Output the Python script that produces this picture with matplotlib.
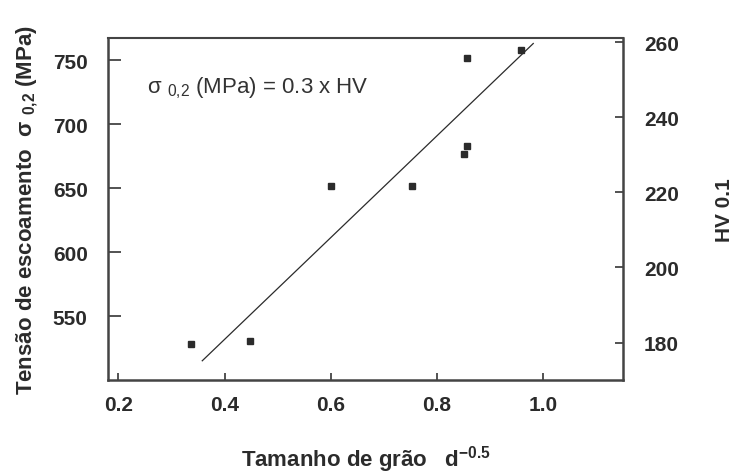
import numpy as np
import matplotlib
matplotlib.use('Agg')
import matplotlib.pyplot as plt

plt.rcParams['font.family'] = ['Liberation Sans', 'DejaVu Sans']
plt.rcParams['mathtext.fontset'] = 'custom'
plt.rcParams['mathtext.rm'] = 'Liberation Sans'
plt.rcParams['mathtext.bf'] = 'Liberation Sans:bold'

# Dados
d_inv = [0.336, 0.448, 0.600, 0.752, 0.850, 0.857, 0.857, 0.957]
sigma = [528.4, 531.0, 651.9, 651.9, 676.6, 682.9, 751.6, 757.8]
fit_x = [0.358, 0.981]
fit_y = [515.4, 763.0]

x_ticks = [0.2, 0.4, 0.6, 0.8, 1.0]
y_ticks = [550, 600, 650, 700, 750]
hv_ticks = [180, 200, 220, 240, 260]

cor = '#2b2b2b'
fs = 15

fig = plt.figure(figsize=(7.33, 4.77), dpi=100)
ax = fig.add_axes([0.148, 0.201, 0.702, 0.717])

ax.plot(fit_x, fit_y, '-', color=cor, lw=0.9)
ax.plot(d_inv, sigma, 's', color=cor, ms=5, mec=cor)

ax.set_xlim(0.1815, 1.150)
ax.set_ylim(500.3, 767.2)
ax.set_xticks(x_ticks)
ax.set_xticklabels(['%.1f' % v for v in x_ticks])
ax.set_yticks(y_ticks)

for s in ax.spines.values():
    s.set_color('#444444')
    s.set_linewidth(1.8)
ax.spines['top'].set_linewidth(1.5)

ax.tick_params(axis='y', direction='in', length=9.5, width=1.3, color='#444444',
               labelsize=fs, pad=15, labelcolor=cor)
ax.tick_params(axis='x', direction='in', length=5, width=1.3, color='#444444',
               labelsize=fs, pad=11, labelcolor=cor)
for lbl in ax.get_xticklabels() + ax.get_yticklabels():
    lbl.set_fontweight('bold')

ax.set_ylabel('Tensão de escoamento  σ $_{\\mathbf{0{,}2}}$ (MPa)', fontsize=16,
              fontweight='bold', color=cor, labelpad=9)
ax.set_xlabel('Tamanho de grão   d$^{\\mathbf{-0.5}}$', fontsize=16,
              fontweight='bold', color=cor, labelpad=21)

ax.text(0.075, 0.855, 'σ $_{\\mathrm{0{,}2}}$ (MPa) = 0.3 x HV', transform=ax.transAxes,
        fontsize=16, color='#333333', va='center', ha='left')

ax2 = ax.twinx()
ax2.set_ylim(170.0, 261.1)
ax2.set_yticks(hv_ticks)
ax2.tick_params(axis='y', direction='in', length=6, width=1.3, color='#444444',
                labelsize=fs, pad=15, labelcolor=cor)
for lbl in ax2.get_yticklabels():
    lbl.set_fontweight('bold')
for s in ax2.spines.values():
    s.set_visible(False)
ax2.set_ylabel('HV 0.1', fontsize=fs, fontweight='bold', color=cor, labelpad=26)

fig.savefig('out.png', dpi=100)
